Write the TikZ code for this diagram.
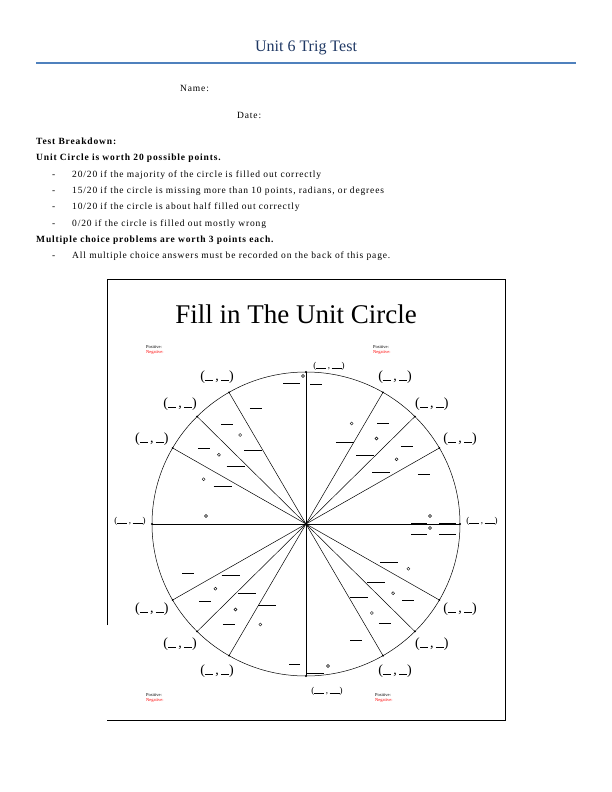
\documentclass[tikz,border=0pt]{standalone}
\usepackage{fontspec}
\setmainfont{Liberation Serif}
\newfontfamily\bodyfont[LetterSpace=9]{Liberation Serif}
\usetikzlibrary{calc}
\begin{document}
\begin{tikzpicture}[x=1pt,y=-1pt,
  txt/.style={anchor=base west,inner sep=0,font=\bodyfont\fontsize{9.5}{10}\selectfont},
  pair/.style={inner sep=0,font=\fontsize{14}{14}\selectfont},
  blank/.style={line width=0.6pt},
  deg/.style={draw,circle,inner sep=0,minimum size=3pt,line width=0.4pt},
  pn/.style={inner sep=0,anchor=north west,align=left,font=\fontsize{4.5}{5}\selectfont}]
\useasboundingbox (0,0) rectangle (612,792);
\definecolor{hdr}{RGB}{31,56,100}
\definecolor{rule}{RGB}{79,129,189}
\node[inner sep=0,font=\fontsize{16}{18}\selectfont,text=hdr] (title) at (306,48) {Unit 6 Trig Test};
\draw[rule,line width=1.2pt] (36,63) -- (576,63);
\node[txt] (name) at (180,91) {Name:};
\node[txt] (date) at (237,118) {Date:};
\node[txt] (tb) at (36,144) {\textbf{Test Breakdown:}};
\node[txt] (uc) at (36,160) {\textbf{Unit Circle is worth 20 possible points.}};
\node[txt] (d1) at (52,177) {-};
\node[txt] (l1) at (72,177) {20/20 if the majority of the circle is filled out correctly};
\node[txt] (d2) at (52,193) {-};
\node[txt] (l2) at (72,193) {15/20 if the circle is missing more than 10 points, radians, or degrees};
\node[txt] (d3) at (52,209) {-};
\node[txt] (l3) at (72,209) {10/20 if the circle is about half filled out correctly};
\node[txt] (d4) at (52,226) {-};
\node[txt] (l4) at (72,226) {0/20 if the circle is filled out mostly wrong};
\node[txt] (mc) at (36,242) {\textbf{Multiple choice problems are worth 3 points each.}};
\node[txt] (d5) at (52,258) {-};
\node[txt] (l5) at (72,258) {All multiple choice answers must be recorded on the back of this page.};
% frame
\draw[line width=0.6pt] (107,625) -- (107,279) -- (505,279) -- (505,720) -- (107,720);
\node[inner sep=0,font=\fontsize{27}{30}\selectfont] (fill) at (296,314) {Fill in The Unit Circle};
\node[pn] (pn1) at (146,345) {Positive:\\\textcolor{red}{Negative:}};
\node[pn] (pn2) at (373,345) {Positive:\\\textcolor{red}{Negative:}};
\node[pn] (pn3) at (146,693) {Positive:\\\textcolor{red}{Negative:}};
\node[pn] (pn4) at (375,693) {Positive:\\\textcolor{red}{Negative:}};
% circle
\coordinate (O) at (306,524);
\draw[line width=0.5pt] (O) ellipse [x radius=154, y radius=152];
\foreach \a in {90,180,270,360}{
  \coordinate (p\a) at ($(O)+(\a:154 and -152)$);
}
\draw[line width=0.5pt] (p90) -- (p270) (p180) -- (p360);
\foreach \a in {30,45,60,120,135,150,210,225,240,300,315,330}{
  \coordinate (p\a) at ($(O)+(\a:154 and -152)$);
  \draw[line width=0.5pt] (O) -- (p\a);
  \fill (p\a) circle (1.1pt);
  \node[pair] (q\a) at ($(O)+(\a:178 and -170)$) {(\rule{8pt}{0.5pt}\,,\,\rule{8pt}{0.5pt})};
  \draw[blank] ($(O)+(\a-7:128 and -126)$) ++(-6,0) -- ++(12,0);
  \draw[blank] ($(O)+(\a+5:92 and -90)$) ++(-9,0) -- ++(18,0);
  \node[deg] (g\a) at ($(O)+(\a+6:112 and -110)$) {};
}
\foreach \a in {90,180,270,360}{\fill (p\a) circle (1.1pt);}
\node[pair,font=\fontsize{9}{9}\selectfont] (q90) at (329,366) {(\rule{10pt}{0.4pt}\,,\,\rule{10pt}{0.4pt})};
\node[pair,font=\fontsize{9}{9}\selectfont] (q270) at (327,691) {(\rule{10pt}{0.4pt}\,,\,\rule{10pt}{0.4pt})};
\node[pair,font=\fontsize{9}{9}\selectfont] (q180) at (130,521) {(\rule{10pt}{0.4pt}\,,\,\rule{10pt}{0.4pt})};
\node[pair,font=\fontsize{9}{9}\selectfont] (q360) at (482,521) {(\rule{10pt}{0.4pt}\,,\,\rule{10pt}{0.4pt})};
\draw[blank] (283,383) -- (300,383) (310,384) -- (322,384);
\node[deg] (g90) at (303,376) {};
\draw[blank] (158,524) -- (170,524) (186,524) -- (203,524);
\node[deg] (g180) at (206,516) {};
\draw[blank] (411,523) -- (427,523) (439,523) -- (456,523) (411,534) -- (427,534) (439,534) -- (456,534);
\node[deg] (g360) at (430,516) {};
\node[deg] (g360b) at (430,528) {};
\draw[blank] (289,664) -- (300,664) (307,673) -- (324,673);
\node[deg] (g270) at (328,666) {};
\end{tikzpicture}
\end{document}
